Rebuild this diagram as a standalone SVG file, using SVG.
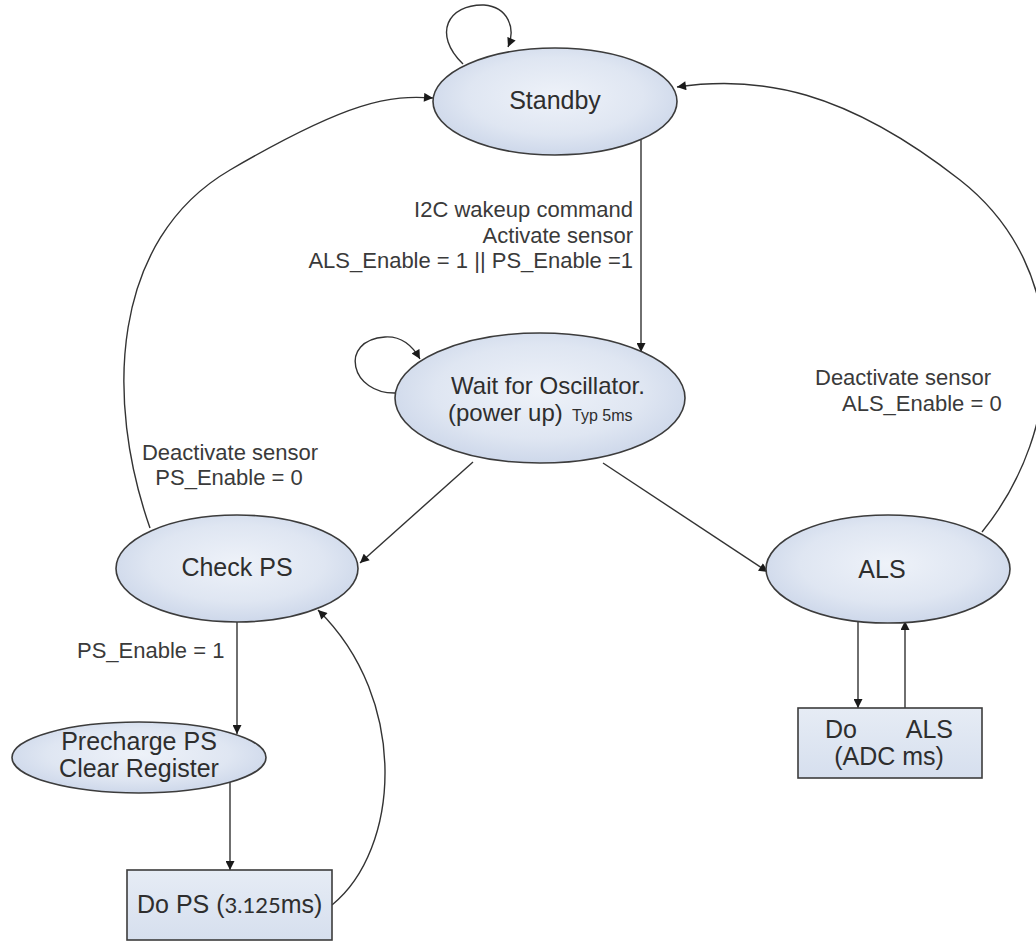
<svg xmlns="http://www.w3.org/2000/svg" width="1036" height="942" viewBox="0 0 1036 942">
<style>
.node{fill:url(#eg);stroke:#3c3c3c;stroke-width:1.6}
.box{fill:url(#bg);stroke:#3c3c3c;stroke-width:1.6}
.nt{font-family:"Liberation Sans",Arial,sans-serif;font-size:25px;fill:#2e2e2e;text-anchor:middle}
.lb{font-family:"Liberation Sans",Arial,sans-serif;font-size:22px;fill:#3a3a3a}
.edge{fill:none;stroke:#333;stroke-width:1.4;marker-end:url(#ah)}
</style>
<defs>
<radialGradient id="eg" cx="50%" cy="45%" r="60%">
<stop offset="0" stop-color="#eef2f9"/>
<stop offset="0.6" stop-color="#dfe6f2"/>
<stop offset="1" stop-color="#c9d4e8"/>
</radialGradient>
<linearGradient id="bg" x1="0" y1="0" x2="0" y2="1">
<stop offset="0" stop-color="#e6ecf5"/>
<stop offset="1" stop-color="#d6dfee"/>
</linearGradient>
<marker id="ah" viewBox="0 0 10 10" refX="10" refY="5" markerWidth="10" markerHeight="9" markerUnits="userSpaceOnUse" orient="auto">
<path d="M0,0 L10,5 L0,10 z" fill="#1a1a1a"/>
</marker>
</defs>
<rect width="1036" height="942" fill="#ffffff"/>
<g id="connectors">
<path class="edge" d="M463,64 C432,34 448,4 484,5 C508,7 516,28 508,47"/>
<path class="edge" d="M150,528 C105,400 110,240 230,170 S390,95 433,98"/>
<path class="edge" d="M982,532 C1065,430 1075,270 960,180 S760,75 677,87"/>
<path class="edge" d="M641,140 L641,352"/>
<path class="edge" d="M397,393 C350,395 338,340 385,337 C400,336 412,345 420,359"/>
<path class="edge" d="M473,462 L360,563"/>
<path class="edge" d="M603,463 L768,572"/>
<path class="edge" d="M237,622 L237,734"/>
<path class="edge" d="M230,782 L230,870"/>
<path class="edge" d="M332,905 C400,850 410,700 318,610"/>
<path class="edge" d="M858,621 L858,708"/>
<path class="edge" d="M905,708 L905,621"/>
<text class="lb" text-anchor="end"><tspan x="633" y="217">I2C wakeup command</tspan><tspan x="633" y="243">Activate sensor</tspan><tspan x="633" y="268">ALS_Enable = 1 || PS_Enable =1</tspan></text>
<text class="lb" text-anchor="middle"><tspan x="230" y="460">Deactivate sensor</tspan><tspan x="229" y="485">PS_Enable = 0</tspan></text>
<text class="lb"><tspan x="815" y="385">Deactivate sensor</tspan><tspan x="842" y="411">ALS_Enable = 0</tspan></text>
<text class="lb" x="77" y="658">PS_Enable = 1</text>
</g>
<g id="standby">
<ellipse class="node" cx="555" cy="101.5" rx="122" ry="53.5"/>
<text class="nt" x="555" y="109">Standby</text>
</g>
<g id="wait">
<ellipse class="node" cx="540" cy="398" rx="145" ry="65"/>
<text class="nt" x="548" y="394" style="font-size:24px">Wait for Oscillator.</text>
<text class="nt" x="448" y="421" style="font-size:24px;text-anchor:start">(power up)</text>
<text class="nt" x="572" y="421" style="font-size:16px;text-anchor:start">Typ 5ms</text>
</g>
<g id="checkps">
<ellipse class="node" cx="237" cy="568.5" rx="121" ry="53.5"/>
<text class="nt" x="237" y="576">Check PS</text>
</g>
<g id="als">
<ellipse class="node" cx="888" cy="569" rx="122" ry="54"/>
<text class="nt" x="882" y="578">ALS</text>
</g>
<g id="precharge">
<ellipse class="node" cx="139" cy="757.5" rx="127" ry="35.5"/>
<text class="nt" x="139" y="750">Precharge PS</text>
<text class="nt" x="139" y="777">Clear Register</text>
</g>
<g id="dops">
<rect class="box" x="127" y="870" width="205" height="70"/>
<text class="nt" x="137" y="913" style="text-anchor:start">Do PS (<tspan style="font-family:Lato,'Open Sans',sans-serif;font-size:22px">3.125</tspan>ms)</text>
</g>
<g id="doals">
<rect class="box" x="798" y="708" width="184" height="70"/>
<text class="nt" x="825" y="738" style="text-anchor:start">Do</text>
<text class="nt" x="953" y="738" style="text-anchor:end">ALS</text>
<text class="nt" x="889" y="765">(ADC ms)</text>
</g>
</svg>
